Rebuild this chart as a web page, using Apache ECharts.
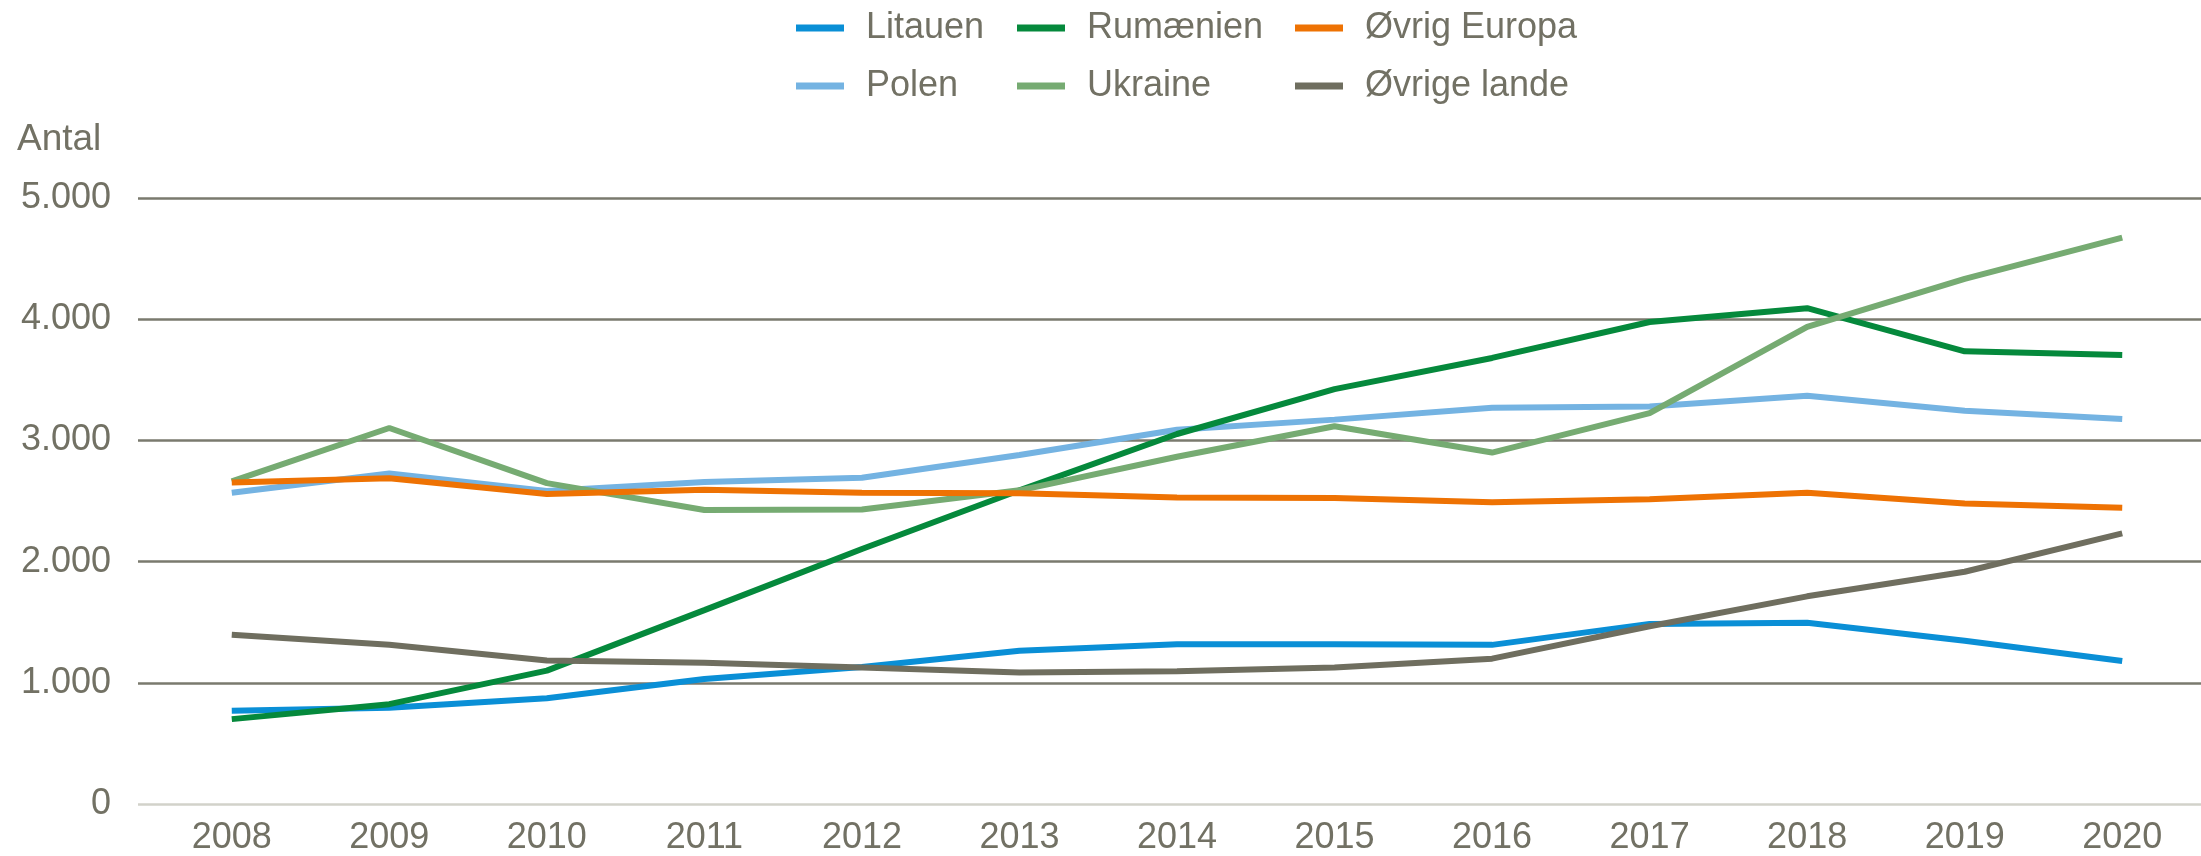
<!DOCTYPE html>
<html>
<head>
<meta charset="utf-8">
<script src="https://cdn.jsdelivr.net/npm/echarts@6/dist/echarts.min.js"></script>
<style>
html,body{margin:0;padding:0;background:#fff;}
#chart{width:2201px;height:856px;}
</style>
</head>
<body>
<div id="chart"></div>
<script>
const years = ['2008','2009','2010','2011','2012','2013','2014','2015','2016','2017','2018','2019','2020'];
const litauen = [720, 745, 825, 985, 1085, 1220, 1275, 1275, 1270, 1445, 1455, 1305, 1135];
const polen = [2540, 2700, 2555, 2630, 2665, 2855, 3065, 3150, 3250, 3260, 3350, 3225, 3155];
const rumaenien = [650, 775, 1055, 1560, 2070, 2560, 3030, 3405, 3665, 3965, 4080, 3720, 3690];
const ukraine = [2635, 3080, 2620, 2395, 2400, 2560, 2840, 3095, 2875, 3205, 3925, 4325, 4670];
const oevrigEuropa = [2625, 2660, 2530, 2565, 2540, 2535, 2500, 2495, 2460, 2485, 2540, 2450, 2415];
const oevrigeLande = [1355, 1270, 1140, 1120, 1080, 1040, 1050, 1080, 1155, 1425, 1675, 1880, 2200];
const yTicks = [0, 1000, 2000, 3000, 4000, 5000];

const txt = '#727164';
const font = 'Liberation Sans, Arial, sans-serif';

const seriesDefs = [
  {name:'Litauen', data:litauen, color:'#0a8fd6'},
  {name:'Polen', data:polen, color:'#74b3e2'},
  {name:'Rumænien', data:rumaenien, color:'#05893c'},
  {name:'Ukraine', data:ukraine, color:'#76ab72'},
  {name:'Øvrig Europa', data:oevrigEuropa, color:'#ee7203'},
  {name:'Øvrige lande', data:oevrigeLande, color:'#6f6e5f'}
];

function legendCol(left, names){
  return {
    orient:'vertical', left:left, top:3, itemGap:18,
    icon:'rect', itemWidth:48, itemHeight:7,
    data:names,
    textStyle:{fontSize:36, lineHeight:40, color:txt, fontFamily:font, padding:[0,0,0,17]}
  };
}

const chart = echarts.init(document.getElementById('chart'));
chart.setOption({
  animation:false,
  backgroundColor:'#fff',
  title:{text:'Antal', left:17, top:121, padding:0,
    textStyle:{fontSize:37, lineHeight:37, color:txt, fontWeight:'normal', fontFamily:font}},
  legend:[
    legendCol(791, ['Litauen','Polen']),
    legendCol(1012, ['Rumænien','Ukraine']),
    legendCol(1290, ['Øvrig Europa','Øvrige lande'])
  ],
  grid:[
    {left:138, right:0, top:198, bottom:52},
    {left:153, right:-3, top:198, bottom:52}
  ],
  xAxis:[
    {gridIndex:0, type:'category', data:years, show:false},
    {gridIndex:1, type:'category', data:years, boundaryGap:true,
      axisLine:{show:false}, axisTick:{show:false}, splitLine:{show:false},
      axisLabel:{fontSize:36, color:txt, fontFamily:font, margin:23, interval:0}}
  ],
  yAxis:[
    {gridIndex:0, type:'value', min:yTicks[0], max:yTicks[yTicks.length-1], interval:1000,
      axisLine:{show:false}, axisTick:{show:false},
      axisLabel:{fontSize:36, color:txt, fontFamily:font, margin:27,
        formatter:function(v){return v.toString().replace(/\B(?=(\d{3})+(?!\d))/g,'.');}},
      splitLine:{show:true, lineStyle:{color:['#d2d2ca','#7a7a6e','#7a7a6e','#7a7a6e','#7a7a6e','#7a7a6e'], width:2.5}}},
    {gridIndex:1, type:'value', min:yTicks[0], max:yTicks[yTicks.length-1], interval:1000, show:false,
      splitLine:{show:false}}
  ],
  series: seriesDefs.map(s => ({
    name:s.name, type:'line', xAxisIndex:1, yAxisIndex:1,
    data:s.data, showSymbol:false, symbol:'none',
    itemStyle:{color:s.color},
    lineStyle:{color:s.color, width:6}
  }))
});
</script>
</body>
</html>
